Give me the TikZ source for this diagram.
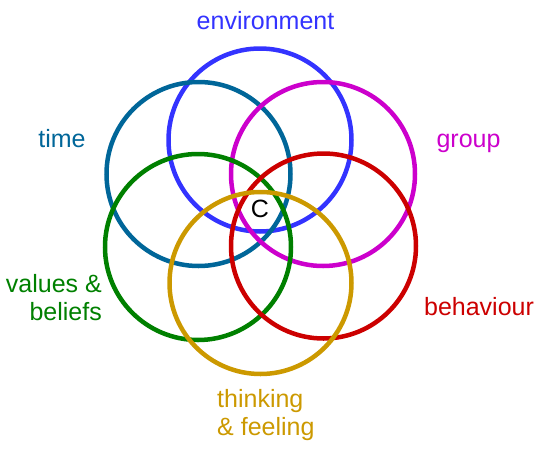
\documentclass[tikz,border=0pt]{standalone}
\usepackage{fontspec}
\setmainfont{Liberation Sans}
\definecolor{cblue}{HTML}{3333FF}
\definecolor{cteal}{HTML}{006699}
\definecolor{cmag}{HTML}{CC00CC}
\definecolor{cgreen}{HTML}{008000}
\definecolor{cred}{HTML}{CC0000}
\definecolor{cgold}{HTML}{CC9900}
\begin{document}
\begin{tikzpicture}[x=1pt,y=-1pt,
  ring/.style={line width=4.5pt},
  lab/.style={inner sep=0pt,font=\fontsize{25}{28}\selectfont}]
\useasboundingbox (0,0) rectangle (539,448);
\draw[ring,cblue]  (260,140) circle[radius=91.5];
\draw[ring,cteal]  (198.5,174) circle[radius=92];
\draw[ring,cmag]   (323,174) circle[radius=92];
\draw[ring,cgreen] (198,247) circle[radius=93];
\draw[ring,cred]   (323.5,246) circle[radius=92.5];
\draw[ring,cgold]  (260.5,283) circle[radius=91];
\node[lab,text=cblue,anchor=base] (env) at (265.5,29) {environment};
\node[lab,text=cteal,anchor=base] (time) at (62,147) {time};
\node[lab,text=cmag,anchor=base] (group) at (468.5,147) {group};
\node[lab,text=cgreen,align=right,anchor=base east] (val) at (102,320) {values \&\\beliefs};
\node[lab,text=cred,anchor=base] (beh) at (479,315) {behaviour};
\node[lab,text=cgold,align=left,anchor=base west] (think) at (217,435) {thinking\\\& feeling};
\node[lab,text=black] (c) at (260,209) {C};
\end{tikzpicture}
\end{document}
